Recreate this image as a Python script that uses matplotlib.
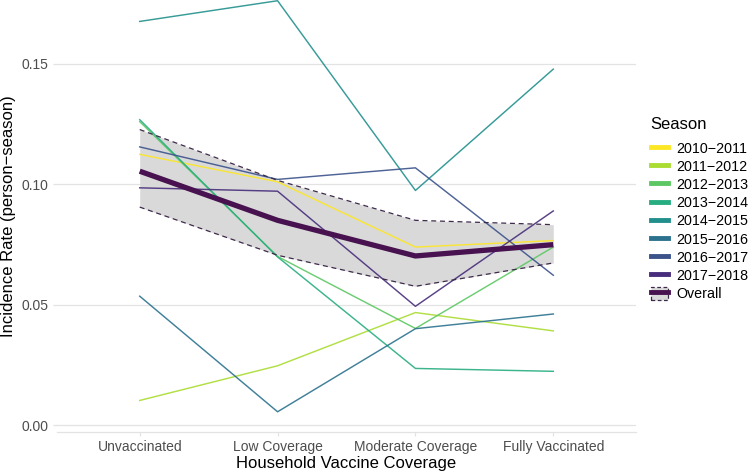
import matplotlib
matplotlib.use("Agg")
import matplotlib.pyplot as plt
from matplotlib.lines import Line2D
from matplotlib.patches import Patch

plt.rcParams['font.family'] = ['Liberation Sans', 'DejaVu Sans']

categories = ["Unvaccinated", "Low Coverage", "Moderate Coverage", "Fully Vaccinated"]
seasons = ["2010−2011", "2011−2012", "2012−2013", "2013−2014",
           "2014−2015", "2015−2016", "2016−2017", "2017−2018"]
season_colors = ["#FDE725", "#AADC32", "#5DC863", "#27AD81",
                 "#21908C", "#2C728E", "#3B528B", "#472D7B"]

s2010 = [0.1124, 0.1010, 0.0739, 0.0766]
s2011 = [0.0102, 0.0246, 0.0467, 0.0391]
s2012 = [0.1260, 0.0700, 0.0401, 0.0739]
s2013 = [0.1268, 0.0698, 0.0235, 0.0223]
s2014 = [0.1676, 0.1762, 0.0974, 0.1478]
s2015 = [0.0535, 0.0055, 0.0400, 0.0461]
s2016 = [0.1155, 0.1020, 0.1068, 0.0622]
s2017 = [0.0985, 0.0971, 0.0493, 0.0889]
series = [s2010, s2011, s2012, s2013, s2014, s2015, s2016, s2017]

overall = [0.1054, 0.0850, 0.0702, 0.0749]
overall_lo = [0.0905, 0.0705, 0.0576, 0.0673]
overall_hi = [0.1227, 0.1016, 0.0850, 0.0832]

yticks = [0.00, 0.05, 0.10, 0.15]
ytick_labels = ["0.00", "0.05", "0.10", "0.15"]

overall_color = "#47124F"
dash_color = "#3E2A4A"

fig = plt.figure(figsize=(7.5, 4.75), dpi=100)
ax = fig.add_axes([57/750, 1 - 432/475, (636-57)/750, 432/475])

x = list(range(len(categories)))
ax.fill_between(x, overall_lo, overall_hi, color="#D9D9D9", zorder=1, linewidth=0)
for vals, col in zip(series, season_colors):
    ax.plot(x, vals, color=col, linewidth=1.05, alpha=0.9, zorder=3)
ax.plot(x, overall_lo, color=dash_color, linewidth=0.9, linestyle=(0, (4, 3)), zorder=4)
ax.plot(x, overall_hi, color=dash_color, linewidth=0.9, linestyle=(0, (4, 3)), zorder=4)
ax.plot(x, overall, color=overall_color, linewidth=3.8, zorder=5, solid_capstyle='butt')

ax.set_xlim(-0.6, 3.6)
ax.set_ylim(-0.0029, 0.1765)
ax.set_xticks(x)
ax.set_xticklabels(categories)
ax.set_yticks(yticks)
ax.set_yticklabels(ytick_labels)

ax.grid(axis='y', color="#E3E3E3", linewidth=0.9)
ax.grid(axis='x', visible=False)
ax.set_axisbelow(True)
for side in ['top', 'right', 'left']:
    ax.spines[side].set_visible(False)
ax.spines['bottom'].set_color("#E3E3E3")
ax.spines['bottom'].set_linewidth(0.9)
ax.tick_params(axis='both', colors="#E3E3E3", labelcolor="#4D4D4D", labelsize=10, length=3, width=0.9, pad=3)

ax.set_xlabel("Household Vaccine Coverage", fontsize=12, color="black", labelpad=1)
ax.set_ylabel("Incidence Rate (person−season)", fontsize=12, color="black", labelpad=4)

handles = [Line2D([0], [0], color=c, linewidth=3.5) for c in season_colors]
overall_handle = (Patch(facecolor="#D9D9D9", edgecolor=dash_color, linestyle=(0, (3, 2)), linewidth=0.9),
                  Line2D([0], [0], color=overall_color, linewidth=3.5))
handles.append(overall_handle)
labels = seasons + ["Overall"]
leg = fig.legend(handles, labels, title="Season", loc="upper left",
                 bbox_to_anchor=(645/750, 1 - 111/475), frameon=False,
                 fontsize=10.3, title_fontsize=12, handlelength=1.2, handleheight=1.0,
                 labelspacing=0.27, handletextpad=0.6, alignment='left',
                 borderaxespad=0)
leg._legend_box.sep = 7

fig.savefig("out.png", dpi=100)
